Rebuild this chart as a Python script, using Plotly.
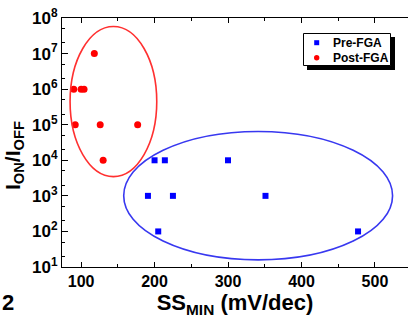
import plotly.graph_objects as go

# Data
pre_x = [200, 214, 300, 191, 225, 351, 205, 477]
pre_y = [1e4, 1e4, 1e4, 1e3, 1e3, 1e3, 1e2, 1e2]
post_x = [118, 90, 100, 104, 92, 126, 177, 130]
post_y = [1e7, 1e6, 1e6, 1e6, 1e5, 1e5, 1e5, 1e4]
series_names = ["Pre-FGA", "Post-FGA"]
y_tickvals = [1e1, 1e2, 1e3, 1e4, 1e5, 1e6, 1e7, 1e8]
y_ticktext = ["10<sup>%d</sup>" % e for e in range(1, 9)]
x_tickvals = [100, 200, 300, 400, 500]

# group outlines (x range, y range in data units)
red_ellipse = dict(x0=85, x1=203, y0=10**3.54, y1=10**7.76)
blue_ellipse = dict(x0=158, x1=524, y0=10**1.2, y1=10**4.81)

BLUE, RED = "#0000ff", "#ff0000"
FONT = "Liberation Sans"
L, T, W, H = 62, 18, 346, 249

def px(x):
    return (x - L) / W

def py(y):
    return 1 - (y - T) / H

fig = go.Figure()
fig.add_trace(go.Scatter(x=pre_x, y=pre_y, mode="markers", name=series_names[0],
                         marker=dict(symbol="square", size=6, color=BLUE)))
fig.add_trace(go.Scatter(x=post_x, y=post_y, mode="markers", name=series_names[1],
                         marker=dict(symbol="circle", size=7, color=RED)))

fig.add_shape(type="circle", xref="x", yref="y", **red_ellipse,
              line=dict(color="#ff3030", width=1.6), layer="above")
fig.add_shape(type="circle", xref="x", yref="y", **blue_ellipse,
              line=dict(color="#3838f0", width=1.6), layer="above")

# legend box (drawn by hand to match the boxed, shadowed key)
fig.add_shape(type="rect", xref="paper", yref="paper",
              x0=px(307), x1=px(395), y0=py(70), y1=py(37),
              fillcolor="black", line=dict(width=0), layer="above")
fig.add_shape(type="rect", xref="paper", yref="paper",
              x0=px(303.5), x1=px(390.5), y0=py(65.5), y1=py(33.5),
              fillcolor="white", line=dict(color="black", width=1), layer="above")
fig.add_shape(type="rect", xref="paper", yref="paper",
              x0=px(314.2), x1=px(319.2), y0=py(45.2), y1=py(40.2),
              fillcolor=BLUE, line=dict(width=0), layer="above")
fig.add_shape(type="circle", xref="paper", yref="paper",
              x0=px(314), x1=px(319.4), y0=py(60.4), y1=py(55),
              fillcolor=RED, line=dict(width=0), layer="above")
for name, yc in zip(series_names, [42.7, 57.7]):
    fig.add_annotation(text=name, xref="paper", yref="paper",
                       x=px(331), y=py(yc), xanchor="left", yanchor="middle",
                       showarrow=False,
                       font=dict(family=FONT, size=12, weight="bold", color="black"))

# y-axis title placed like the original (slightly below centre)
fig.add_annotation(text="I<sub>ON</sub>/I<sub>OFF</sub>", xref="paper", yref="paper",
                   x=px(14), y=py(156), xanchor="center", yanchor="middle",
                   textangle=-90, showarrow=False,
                   font=dict(family=FONT, size=21, weight="bold", color="black"))

fig.add_annotation(text="<b>2</b>", xref="paper", yref="paper",
                   x=px(0), y=py(302), xanchor="left", yanchor="middle",
                   showarrow=False, font=dict(family=FONT, size=22, color="black"))

fig.update_layout(
    width=408, height=320,
    margin=dict(l=L, r=408 - L - W, t=T, b=320 - T - H),
    paper_bgcolor="white", plot_bgcolor="white",
    font=dict(family=FONT, color="black"),
    showlegend=False,
    xaxis=dict(range=[74, 545], tickvals=x_tickvals, ticks="inside", ticklen=5,
               tickcolor="black", showline=True, linecolor="black", linewidth=1,
               mirror="ticks", showgrid=False, zeroline=False, automargin=False,
               minor=dict(dtick=50, ticks="inside", ticklen=3, tickcolor="black"),
               tickfont=dict(family=FONT, size=16, weight="bold"),
               title=dict(text="SS<sub>MIN</sub> (mV/dec)", standoff=5,
                          font=dict(family=FONT, size=22, weight="bold"))),
    yaxis=dict(type="log", range=[1, 8], tickvals=y_tickvals, ticktext=y_ticktext,
               ticks="inside", ticklen=6, tickcolor="black",
               showline=True, linecolor="black", linewidth=1, mirror=False,
               showgrid=False, zeroline=False, automargin=False,
               minor=dict(ticks="inside", ticklen=3, tickcolor="black", showgrid=False),
               tickfont=dict(family=FONT, size=17, weight="bold")),
)

fig.write_html("out.html", config={"displayModeBar": False},
               post_script="document.body.style.margin='0';")
